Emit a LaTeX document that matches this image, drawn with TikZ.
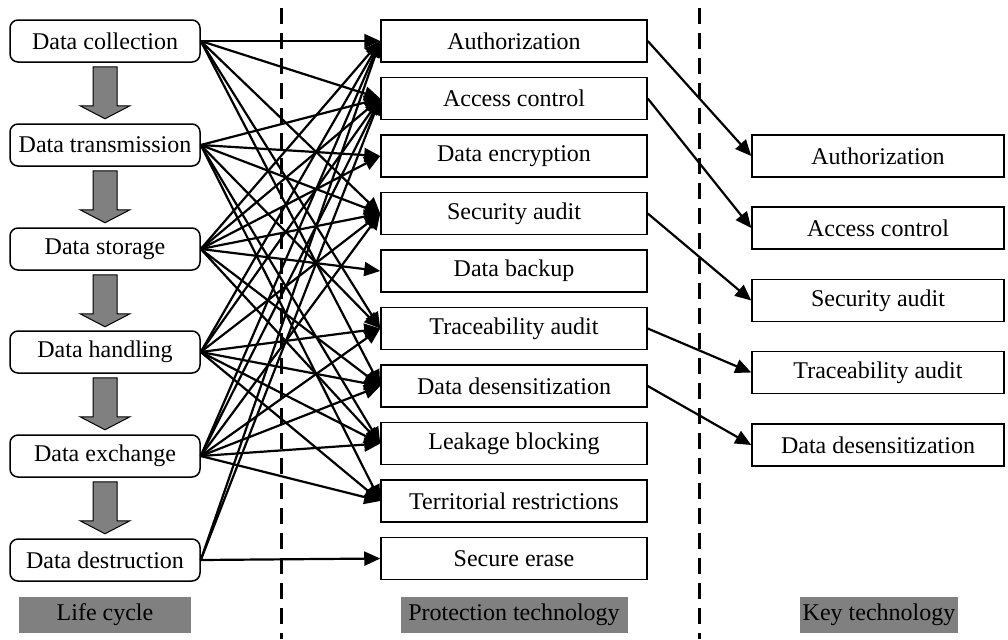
\documentclass[tikz,border=0pt]{standalone}
\usepackage{fontspec}
\setmainfont{Liberation Serif}
\usetikzlibrary{arrows.meta,calc}

\tikzset{
  stage/.style={draw, line width=0.75pt, rounded corners=4pt, minimum width=95pt, minimum height=21pt, inner sep=0pt, font=\fontsize{12}{14}\selectfont},
  tech/.style={draw, line width=0.75pt, minimum width=133pt, minimum height=21pt, inner sep=0pt, font=\fontsize{12}{14}\selectfont},
  keytech/.style={draw, line width=0.75pt, minimum width=126pt, minimum height=21pt, inner sep=0pt, font=\fontsize{12}{14}\selectfont},
  caption/.style={fill=gray, minimum height=18pt, inner sep=0pt, font=\fontsize{12}{14}\selectfont},
  link/.style={-{Triangle[length=8pt, width=7pt]}, line width=1.1pt},
  divider/.style={line width=1.5pt, dash pattern=on 8pt off 4.5pt},
}

\begin{document}
\begin{tikzpicture}[x=0.5pt, y=-0.5pt]
  \useasboundingbox (0,0) rectangle (1008,639);

  % life cycle
  \node[stage] (coll) at (105, 41) {Data collection};
  \node[stage] (trans) at (105, 145) {Data transmission};
  \node[stage] (stor) at (105, 249) {Data storage};
  \node[stage] (hand) at (105, 352) {Data handling};
  \node[stage] (exch) at (105, 456) {Data exchange};
  \node[stage] (dest) at (105, 560) {Data destruction};

  \filldraw[fill=gray, line width=0.5pt] ($(coll.south)+(-12,4)$) -- ++(0,39) -- ++(-13,0) -- ++(25,13) -- ++(25,-13) -- ++(-13,0) -- ++(0,-39) -- cycle;
  \filldraw[fill=gray, line width=0.5pt] ($(trans.south)+(-12,4)$) -- ++(0,39) -- ++(-13,0) -- ++(25,13) -- ++(25,-13) -- ++(-13,0) -- ++(0,-39) -- cycle;
  \filldraw[fill=gray, line width=0.5pt] ($(stor.south)+(-12,4)$) -- ++(0,39) -- ++(-13,0) -- ++(25,13) -- ++(25,-13) -- ++(-13,0) -- ++(0,-39) -- cycle;
  \filldraw[fill=gray, line width=0.5pt] ($(hand.south)+(-12,4)$) -- ++(0,39) -- ++(-13,0) -- ++(25,13) -- ++(25,-13) -- ++(-13,0) -- ++(0,-39) -- cycle;
  \filldraw[fill=gray, line width=0.5pt] ($(exch.south)+(-12,4)$) -- ++(0,39) -- ++(-13,0) -- ++(25,13) -- ++(25,-13) -- ++(-13,0) -- ++(0,-39) -- cycle;

  % protection technology
  \node[tech] (auth) at (514, 41) {Authorization};
  \node[tech] (acc) at (514, 98.5) {Access control};
  \node[tech] (enc) at (514, 156) {Data encryption};
  \node[tech] (audit) at (514, 213.5) {Security audit};
  \node[tech] (backup) at (514, 271) {Data backup};
  \node[tech] (trace) at (514, 328.5) {Traceability audit};
  \node[tech] (desens) at (514, 386) {Data desensitization};
  \node[tech] (leak) at (514, 443.5) {Leakage blocking};
  \node[tech] (terr) at (514, 501) {Territorial restrictions};
  \node[tech] (erase) at (514, 558.5) {Secure erase};

  % key technology
  \node[keytech] (kauth) at (878, 156) {Authorization};
  \node[keytech] (kacc) at (878, 228) {Access control};
  \node[keytech] (kaudit) at (878, 300.5) {Security audit};
  \node[keytech] (ktrace) at (878, 372.5) {Traceability audit};
  \node[keytech] (kdesens) at (878, 445) {Data desensitization};

  \node[caption, minimum width=86pt] (lcyc) at (105, 615) {Life cycle};
  \node[caption, minimum width=113.5pt] (ptech) at (514, 615) {Protection technology};
  \node[caption, minimum width=79pt] (ktech) at (879, 615) {Key technology};

  \draw[divider] (281, 8) -- (281, 639);
  \draw[divider] (699, 8) -- (699, 639);

  % life cycle -> protection
  \draw[link] (coll.east) -- (auth.west);
  \draw[link] (coll.east) -- (acc.west);
  \draw[link] (coll.east) -- (audit.west);
  \draw[link] (coll.east) -- (trace.west);
  \draw[link] (coll.east) -- (desens.west);

  \draw[link] (trans.east) -- (acc.west);
  \draw[link] (trans.east) -- (enc.west);
  \draw[link] (trans.east) -- (audit.west);
  \draw[link] (trans.east) -- (trace.west);
  \draw[link] (trans.east) -- (leak.west);
  \draw[link] (trans.east) -- (terr.west);

  \draw[link] (stor.east) -- (auth.west);
  \draw[link] (stor.east) -- (acc.west);
  \draw[link] (stor.east) -- (enc.west);
  \draw[link] (stor.east) -- (audit.west);
  \draw[link] (stor.east) -- (backup.west);
  \draw[link] (stor.east) -- (desens.west);
  \draw[link] (stor.east) -- (leak.west);

  \draw[link] (hand.east) -- (auth.west);
  \draw[link] (hand.east) -- (acc.west);
  \draw[link] (hand.east) -- (audit.west);
  \draw[link] (hand.east) -- (trace.west);
  \draw[link] (hand.east) -- (desens.west);
  \draw[link] (hand.east) -- (leak.west);
  \draw[link] (hand.east) -- (terr.west);

  \draw[link] (exch.east) -- (auth.west);
  \draw[link] (exch.east) -- (acc.west);
  \draw[link] (exch.east) -- (audit.west);
  \draw[link] (exch.east) -- (trace.west);
  \draw[link] (exch.east) -- (desens.west);
  \draw[link] (exch.east) -- (leak.west);
  \draw[link] (exch.east) -- (terr.west);

  \draw[link] (dest.east) -- (auth.west);
  \draw[link] (dest.east) -- (acc.west);
  \draw[link] (dest.east) -- (erase.west);

  % protection -> key
  \draw[link] (auth.east) -- (kauth.west);
  \draw[link] (acc.east) -- (kacc.west);
  \draw[link] (audit.east) -- (kaudit.west);
  \draw[link] (trace.east) -- (ktrace.west);
  \draw[link] (desens.east) -- (kdesens.west);
\end{tikzpicture}
\end{document}
